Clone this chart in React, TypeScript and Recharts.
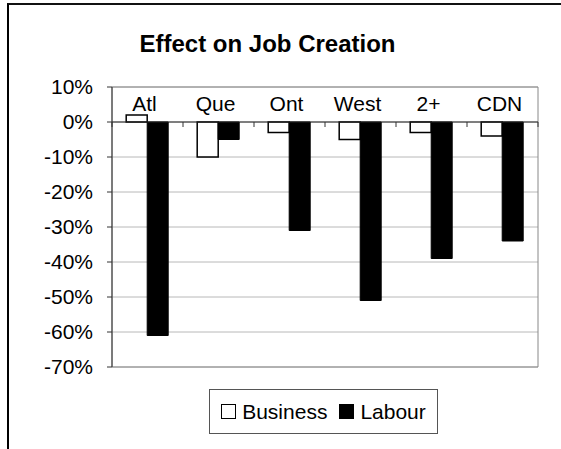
import React from 'react';
import {
  BarChart,
  Bar,
  XAxis,
  YAxis,
  CartesianGrid,
  ReferenceLine,
  ReferenceArea
} from 'recharts';

const categories = ['Atl', 'Que', 'Ont', 'West', '2+', 'CDN'];
const business = [2, -10, -3, -5, -3, -4];
const labour = [-61, -5, -31, -51, -39, -34];
const yTicks = [10, 0, -10, -20, -30, -40, -50, -60, -70];

const data = categories.map((cat, i) => ({
  cat,
  Business: business[i],
  Labour: labour[i],
}));

const FONT = '"Liberation Sans", Arial, sans-serif';
const W = 561;
const H = 449;
const M = { top: 86, right: 23, bottom: 82, left: 52 };
const X_H = 1;
const Y_W = 60;
const PLOT_W = W - M.left - M.right - Y_W;
const PLOT_TOP = M.top + X_H;
const PLOT_H = H - PLOT_TOP - M.bottom;
const ZERO_Y = PLOT_TOP + (PLOT_H * 10) / 80;
const BAND = PLOT_W / categories.length;

// category labels sit inside the plot above the zero line, with small marks on it
const CategoryTick = (props: any) => {
  const { x, payload, index } = props;
  const last = index === categories.length - 1;
  return (
    <g>
      <text x={x - 3} y={111} textAnchor="middle" fontSize={21} fontFamily={FONT} fill="#000">
        {payload.value}
      </text>
      <line x1={x - BAND / 2} x2={x - BAND / 2} y1={ZERO_Y} y2={ZERO_Y + 5} stroke="#333" />
      {last && <line x1={x + BAND / 2} x2={x + BAND / 2} y1={ZERO_Y} y2={ZERO_Y + 5} stroke="#333" />}
    </g>
  );
};

const LegendBox = () => (
  <div
    style={{
      position: 'absolute',
      left: 209,
      top: 389,
      width: 229,
      height: 45,
      boxSizing: 'border-box',
      border: '1.5px solid #555',
      display: 'flex',
      alignItems: 'center',
      justifyContent: 'center',
      fontFamily: FONT,
      fontSize: 21,
      color: '#000',
    }}
  >
    <span style={{ width: 13, height: 13, border: '1.5px solid #000', background: '#fff', marginRight: 6 }} />
    <span style={{ marginRight: 12 }}>Business</span>
    <span style={{ width: 13, height: 13, border: '1.5px solid #000', background: '#000', marginRight: 6 }} />
    <span>Labour</span>
  </div>
);

const App: React.FC = () => {
  return (
    <div style={{ position: 'fixed', left: 0, top: 0, width: W, height: H, background: '#fff', overflow: 'hidden' }}>
      <div
        style={{
          position: 'absolute',
          left: 7,
          top: 3,
          width: 552,
          height: 460,
          borderLeft: '2.5px solid #000',
          borderTop: '2px solid #111',
        }}
      />
      <div
        style={{
          position: 'absolute',
          left: 0,
          width: W,
          top: 30,
          textAlign: 'center',
          fontFamily: FONT,
          fontWeight: 'bold',
          fontSize: 24,
        }}
      >
        <span style={{ position: 'relative', left: -13 }}>Effect on Job Creation</span>
      </div>
      <div style={{ position: 'absolute', left: 0, top: 0 }}>
        <BarChart width={W} height={H} data={data} margin={M} barCategoryGap="20%" barGap={0}>
          <CartesianGrid vertical={false} stroke="#b8b8b8" />
          <ReferenceArea x1="Atl" x2="CDN" y1={-70} y2={10} fill="none" stroke="#888" ifOverflow="visible" />
          <XAxis
            dataKey="cat"
            orientation="top"
            height={X_H}
            axisLine={false}
            tickLine={false}
            interval={0}
            tick={(p: any) => <CategoryTick {...p} />}
          />
          <YAxis
            width={Y_W}
            domain={[-70, 10]}
            ticks={yTicks}
            interval={0}
            tickFormatter={(v) => `${v}%`}
            axisLine={{ stroke: '#333' }}
            tickLine={{ stroke: '#333' }}
            tickSize={5}
            tickMargin={14}
            tick={{ fill: '#000', fontSize: 21, fontFamily: FONT }}
          />
          <Bar dataKey="Business" fill="#fff" stroke="#000" strokeWidth={1.5} isAnimationActive={false} />
          <Bar dataKey="Labour" fill="#000" stroke="#000" isAnimationActive={false} />
          <ReferenceLine y={0} stroke="#222" />
        </BarChart>
      </div>
      <LegendBox />
    </div>
  );
};

export default App;
